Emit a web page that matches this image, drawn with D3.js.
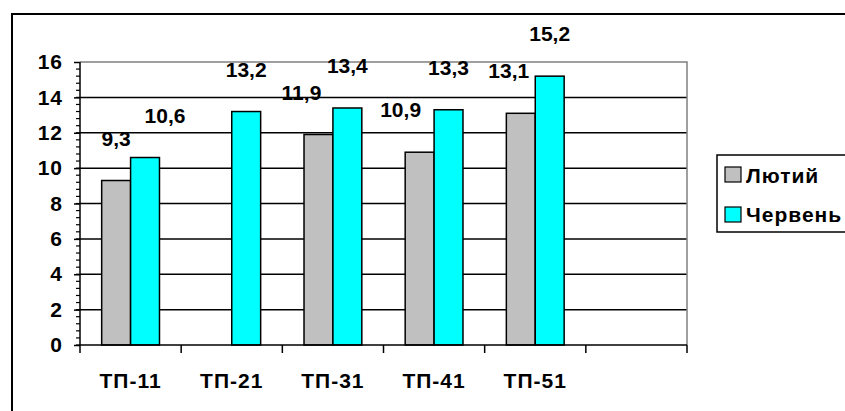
<!DOCTYPE html>
<html>
<head>
<meta charset="utf-8" />
<title>ТП</title>
<style>
  body { margin: 0; background: #fff; }
  svg text { font-family: "Liberation Sans", Arial, sans-serif; font-weight: bold; }
</style>
</head>
<body>
<svg width="845" height="411"></svg>
<script src="https://cdn.jsdelivr.net/npm/d3@7"></script>
<script>
var categories = ['ТП-11', 'ТП-21', 'ТП-31', 'ТП-41', 'ТП-51', ''];
var seriesNames = ['Лютий', 'Червень'];
var lyutyi = [9.3, null, 11.9, 10.9, 13.1];
var cherven = [10.6, 13.2, 13.4, 13.3, 15.2];
var yTicks = [0, 2, 4, 6, 8, 10, 12, 14, 16];
var colors = ['#c0c0c0', '#00ffff'];

// label nudges (px), labels were moved by hand in the original
var labelDx = [[0, 0, -17, -19, -12], [20, 0, 0, 0, 0]];

var svg = d3.select('svg');

// outer chart frame
svg.append('rect')
    .attr('x', 12).attr('y', 14)
    .attr('width', 860).attr('height', 420)
    .attr('fill', 'none').attr('stroke', '#000').attr('stroke-width', 2);

var x = d3.scaleBand().domain(categories).range([80, 687]);
var y = d3.scaleLinear().domain([0, 16]).range([345, 62]);
var bw = x.bandwidth() / 3.5;

// gridlines
svg.append('g').selectAll('line')
    .data(yTicks.filter(function (t) { return t > 0 && t < 16; }))
    .enter().append('line')
    .attr('x1', 80).attr('x2', 687)
    .attr('y1', function (d) { return y(d); })
    .attr('y2', function (d) { return y(d); })
    .attr('stroke', '#000').attr('stroke-width', 1.5);

// plot area border (grey)
svg.append('path')
    .attr('d', 'M80,' + y(16) + 'H687V345')
    .attr('fill', 'none').attr('stroke', '#808080').attr('stroke-width', 1.5);

// bars
var series = [lyutyi, cherven];
series.forEach(function (vals, si) {
    var rows = vals.map(function (v, i) { return { cat: categories[i], v: v, i: i }; })
        .filter(function (d) { return d.v != null; });
    svg.append('g').selectAll('rect')
        .data(rows)
        .enter().append('rect')
        .attr('x', function (d) { return x(d.cat) + x.bandwidth() / 2 - bw + si * bw; })
        .attr('y', function (d) { return y(d.v); })
        .attr('width', bw)
        .attr('height', function (d) { return y(0) - y(d.v); })
        .attr('fill', colors[si])
        .attr('stroke', '#000').attr('stroke-width', 1.5);

    svg.append('g').selectAll('text')
        .data(rows)
        .enter().append('text')
        .attr('x', function (d) { return x(d.cat) + x.bandwidth() / 2 - bw / 2 + si * bw + labelDx[si][d.i]; })
        .attr('y', function (d) { return y(d.v) - 35; })
        .attr('text-anchor', 'middle')
        .attr('font-size', 21)
        .text(function (d) { return String(d.v).replace('.', ','); });
});

// y axis
var yAxis = d3.axisLeft(y).tickValues(yTicks).tickSize(6).tickPadding(11);
var yg = svg.append('g').attr('transform', 'translate(80,0)').call(yAxis);
yg.selectAll('.tick line').attr('stroke-width', 1.5);
yg.selectAll('text').attr('font-size', 21).attr('letter-spacing', 1).style('font-weight', 'bold')
    .attr('font-family', '"Liberation Sans", Arial, sans-serif');
yg.select('.domain').remove();
svg.append('g').selectAll('line')
    .data(d3.range(0, 16, 0.4))
    .enter().append('line')
    .attr('x1', 76).attr('x2', 80)
    .attr('y1', function (d) { return y(d); })
    .attr('y2', function (d) { return y(d); })
    .attr('stroke', '#000').attr('stroke-width', 1.2);
svg.append('line')
    .attr('x1', 80).attr('x2', 80).attr('y1', y(16)).attr('y2', 345)
    .attr('stroke', '#000').attr('stroke-width', 1.5);

// x axis
svg.append('line')
    .attr('x1', 80).attr('x2', 687).attr('y1', 345).attr('y2', 345)
    .attr('stroke', '#000').attr('stroke-width', 1.5);
svg.append('g').selectAll('line')
    .data(categories.concat(['end']))
    .enter().append('line')
    .attr('x1', function (d, i) { return i < categories.length ? x(d) : 687; })
    .attr('x2', function (d, i) { return i < categories.length ? x(d) : 687; })
    .attr('y1', 345).attr('y2', 353)
    .attr('stroke', '#000').attr('stroke-width', 1.5);
svg.append('g').selectAll('text')
    .data(categories)
    .enter().append('text')
    .attr('x', function (d) { return x(d) + x.bandwidth() / 2; })
    .attr('y', 388)
    .attr('text-anchor', 'middle')
    .attr('font-size', 21)
    .attr('letter-spacing', 1)
    .text(function (d) { return d; });

// legend
var lg = svg.append('g');
lg.append('rect')
    .attr('x', 717).attr('y', 155).attr('width', 140).attr('height', 77)
    .attr('fill', '#fff').attr('stroke', '#000').attr('stroke-width', 1.5);
seriesNames.forEach(function (name, i) {
    lg.append('rect')
        .attr('x', 725).attr('y', 167 + i * 40)
        .attr('width', 16).attr('height', 15)
        .attr('fill', colors[i]).attr('stroke', '#000').attr('stroke-width', 1.2);
    lg.append('text')
        .attr('x', 746).attr('y', 183 + i * 39)
        .attr('font-size', 21)
        .attr('letter-spacing', 1)
        .text(name);
});
</script>
</body>
</html>
